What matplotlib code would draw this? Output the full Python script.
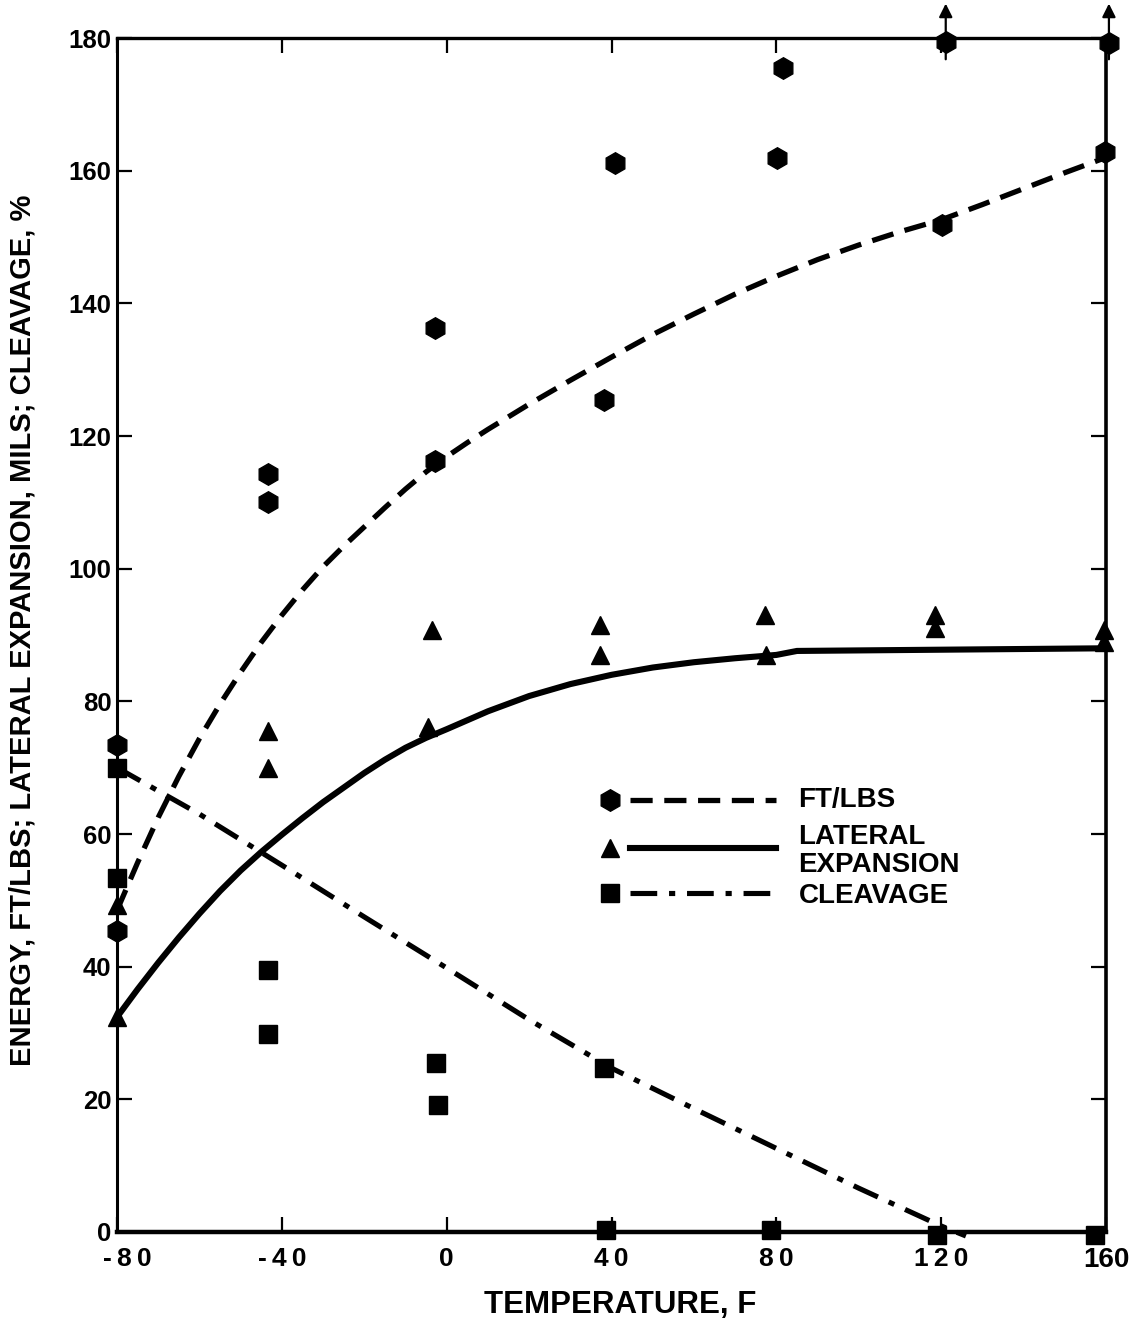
import matplotlib
matplotlib.use("Agg")
import matplotlib.pyplot as plt
import matplotlib.transforms as mtransforms
from matplotlib import font_manager

# Charpy impact results versus test temperature
ft_temp = [-80, -80, -43.3, -43.3, -2.9, -2.9, 38.2, 40.9, 80.2, 81.5, 120.1, 121.1, 159.8, 160.7]
ft_energy = [73.4, 45.4, 114.3, 110.1, 136.3, 116.2, 125.4, 161.2, 161.9, 175.5, 151.8, 179.4, 162.8, 179.3]

lat_temp = [-80, -80, -43.3, -43.3, -3.6, -4.6, 37.2, 37.2, 77.3, 77.6, 118.4, 118.4, 159.5, 159.5]
lat_exp = [49.3, 32.4, 75.5, 70.0, 90.8, 76.1, 91.5, 87.0, 93.0, 87.0, 93.0, 91.0, 90.8, 89.0]

clv_temp = [-80, -80, -43.3, -43.3, -2.7, -2.0, 38.2, 38.7, 78.8, 118.9, 157.3]
clv_pct = [70.0, 53.4, 39.5, 29.9, 25.5, 19.1, 24.7, 0.3, 0.3, -0.5, -0.5]

# Fitted trend curves
ft_curve_t = [-80, -75, -70, -65, -60, -55, -50, -45, -40, -35, -30, -25, -20, -15, -10, -5,
              0, 5, 10, 20, 30, 40, 50, 60, 70, 80, 90, 100, 110, 120, 130, 140, 150, 160]
ft_curve_e = [48.5, 55.7, 62.5, 68.7, 74.4, 79.6, 84.4, 88.9, 93.0, 96.8, 100.3, 103.4, 106.3,
              109.2, 112.0, 114.6, 116.9, 119.0, 121.0, 124.8, 128.4, 131.9, 135.3, 138.4,
              141.4, 144.1, 146.6, 148.8, 150.8, 152.6, 154.9, 157.3, 159.7, 162.0]

lat_curve_t = [-80, -75, -70, -65, -60, -55, -50, -45, -40, -35, -30, -25, -20, -15, -10, -5, 0,
               10, 20, 30, 40, 50, 60, 70, 80, 85, 160]
lat_curve_e = [32.4, 36.6, 40.6, 44.4, 48.0, 51.4, 54.5, 57.3, 59.9, 62.4, 64.8, 67.0, 69.2,
               71.2, 73.0, 74.5, 75.8, 78.5, 80.8, 82.6, 84.0, 85.1, 85.9, 86.5, 87.0, 87.6, 88.0]

clv_curve_t = [-80, -60, -40, -20, 0, 20, 40, 60, 80, 100, 120, 126]
clv_curve_p = [70.0, 63.0, 55.3, 47.5, 39.8, 32.0, 24.7, 18.6, 12.6, 6.6, 0.9, -0.6]

x_ticks = [-80, -40, 0, 40, 80, 120, 160]
x_tick_labels = ['-\u20098\u20090', '-\u20094\u20090', '0', '4\u20090', '8\u20090',
                 '1\u20092\u20090', '160']
y_ticks = [0, 20, 40, 60, 80, 100, 120, 140, 160, 180]

legend_labels = ['FT/LBS', 'LATERAL\nEXPANSION', 'CLEAVAGE']

plt.rcParams['font.family'] = ['Liberation Sans', 'DejaVu Sans']
installed = {f.name for f in font_manager.fontManager.ttflist}
narrow = 'Liberation Sans Narrow' if 'Liberation Sans Narrow' in installed else 'Liberation Sans'

fig = plt.figure(figsize=(11.33, 13.26), dpi=100)
ax = fig.add_axes([0.1033, 0.0709, 0.8729, 0.9004])
ax.set_xlim(-80, 160)
ax.set_ylim(0, 180)

K = 'black'
dash_ft = (0, (4.2, 2.2))
dash_clv = (0, (5.2, 2.3, 1.2, 2.3))

# trend curves
ax.plot(ft_curve_t, ft_curve_e, color=K, lw=3.8, linestyle=dash_ft, clip_on=False)
ax.plot(lat_curve_t, lat_curve_e, color=K, lw=4.4, solid_capstyle='butt',
        solid_joinstyle='round', clip_on=False)
ax.plot(clv_curve_t, clv_curve_p, color=K, lw=3.7, linestyle=dash_clv, clip_on=False)

# measured points
ax.plot(ft_temp, ft_energy, 'h', color=K, ms=15.5, clip_on=False, zorder=5)
ax.plot(lat_temp, lat_exp, '^', color=K, ms=13.5, clip_on=False, zorder=5)
ax.plot(clv_temp, clv_pct, 's', color=K, ms=13.5, clip_on=False, zorder=5)

# off-scale energies marked with upward arrows
for t, e in zip(ft_temp, ft_energy):
    if e >= 179:
        ax.annotate('', xy=(t, 185.2), xytext=(t, 176.8),
                    arrowprops=dict(arrowstyle='-|>', lw=1.6, color=K, mutation_scale=20,
                                    shrinkA=0, shrinkB=0),
                    annotation_clip=False)

# frame
for side, lw in [('left', 2.2), ('right', 2.6), ('top', 2.4), ('bottom', 3.2)]:
    ax.spines[side].set_linewidth(lw)
    ax.spines[side].set_color(K)

ax.set_xticks(x_ticks)
ax.set_xticklabels(x_tick_labels)
ax.set_yticks(y_ticks)
ax.tick_params(axis='both', direction='in', length=11, width=1.6, color=K,
               top=True, right=True)
ax.tick_params(axis='y', labelsize=18.5, pad=4)
ax.tick_params(axis='x', labelsize=19, pad=11)
for lab in ax.get_yticklabels():
    lab.set_fontweight('bold')
for i, lab in enumerate(ax.get_xticklabels()):
    lab.set_fontweight('bold')
    if lab.get_text() != '160':
        lab.set_family([narrow, 'DejaVu Sans'])
    else:
        lab.set_fontsize(20)
    if i == 0:
        lab.set_transform(lab.get_transform() +
                          mtransforms.ScaledTranslation(10 / 100, 0, fig.dpi_scale_trans))

ax.set_xlabel('TEMPERATURE, F', fontsize=22.5, fontweight='bold')
ax.set_ylabel('ENERGY, FT/LBS; LATERAL EXPANSION, MILS; CLEAVAGE, %',
              fontsize=21, fontweight='bold')
ax.xaxis.set_label_coords(0.509, -0.049)
ax.yaxis.set_label_coords(-0.081, 0.504)

# key
key_rows = [
    dict(marker='h', ms=15.5, ls=dash_ft, lw=3.8, y=0.362, ty=[0.362]),
    dict(marker='^', ms=13.5, ls='-', lw=4.4, y=0.322, ty=[0.331, 0.307]),
    dict(marker='s', ms=13.5, ls=dash_clv, lw=3.7, y=0.284, ty=[0.281]),
]
for row, label in zip(key_rows, legend_labels):
    ax.plot([0.498], [row['y']], row['marker'], color=K, ms=row['ms'], transform=ax.transAxes)
    ax.plot([0.519, 0.666], [row['y'], row['y']], color=K, lw=row['lw'], linestyle=row['ls'],
            transform=ax.transAxes)
    for line, ty in zip(label.split('\n'), row['ty']):
        ax.text(0.689, ty, line, transform=ax.transAxes, fontsize=20, fontweight='bold',
                va='center', ha='left')

fig.savefig('out.png', dpi=100, facecolor='white')
